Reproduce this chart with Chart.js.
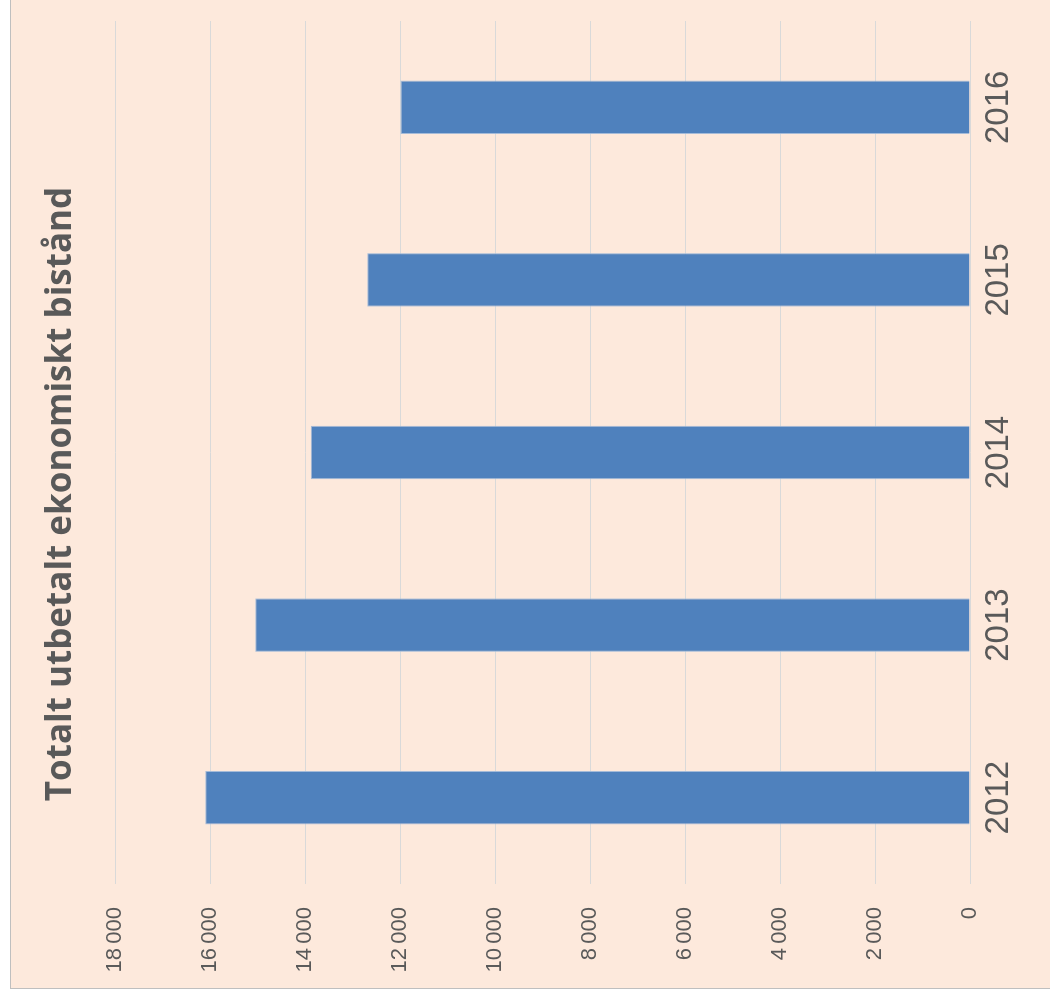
<!DOCTYPE html>
<html>
<head>
<meta charset="utf-8">
<script src="https://cdn.jsdelivr.net/npm/chart.js@4/dist/chart.umd.min.js"></script>
<style>
  html, body { margin: 0; padding: 0; background: #fff; }
  #frame {
    position: absolute; left: 10px; top: 0;
    width: 1040px; height: 988px;
    background: #fde9dc;
    border-left: 1px solid #bfbfbf;
    border-bottom: 1px solid #bfbfbf;
    overflow: hidden;
  }
  /* chart is drawn as an ordinary column chart, then turned a quarter left */
  #chart {
    position: absolute; left: 0; top: 0;
    transform-origin: 0 0;
    transform: translate(0, 988px) rotate(-90deg);
  }
</style>
</head>
<body>
<div id="frame"><canvas id="chart" width="988" height="1039"></canvas></div>
<script>
// Data
const years = ["2012", "2013", "2014", "2015", "2016"];
const amounts = [16100, 15050, 13880, 12690, 11990];
const titleText = "Totalt utbetalt ekonomiskt bistånd";

const fmt = v => String(v).replace(/\B(?=(\d{3})+(?!\d))/g, "\u202f");

new Chart(document.getElementById("chart"), {
  type: "bar",
  data: {
    labels: years,
    datasets: [{
      data: amounts,
      backgroundColor: "#4f81bd",
      borderColor: "#a6bcd8",
      borderWidth: 1,
      categoryPercentage: 1,
      barPercentage: 0.31
    }]
  },
  options: {
    responsive: false,
    animation: false,
    layout: { padding: 0 },
    plugins: {
      legend: { display: false },
      tooltip: { enabled: false },
      title: {
        display: true,
        text: titleText,
        color: "#595959",
        font: { family: "'Open Sans'", size: 35, weight: "bold", lineHeight: 1.2 },
        padding: { top: 29, bottom: 33 }
      }
    },
    scales: {
      x: {
        grid: { display: false, drawTicks: false },
        border: { display: false },
        ticks: {
          color: "#595959",
          font: { family: "'Liberation Sans'", size: 33 },
          padding: 9,
          maxRotation: 0
        },
        afterFit: s => { s.height = 80; }
      },
      y: {
        min: 0,
        max: 18000,
        grid: { color: "#d9d9d9", lineWidth: 1, drawTicks: false },
        border: { display: false },
        ticks: {
          stepSize: 2000,
          color: "#595959",
          font: { family: "'Liberation Sans'", size: 22 },
          padding: 23,
          callback: v => fmt(v)
        },
        afterFit: s => { s.width = 104; }
      },
      // empty spacer on the far side so the title stays centred on the whole chart
      spacer: {
        type: "linear",
        position: "right",
        grid: { display: false, drawTicks: false },
        border: { display: false },
        ticks: { display: false },
        afterFit: s => { s.width = 21; }
      }
    }
  }
});
</script>
</body>
</html>
